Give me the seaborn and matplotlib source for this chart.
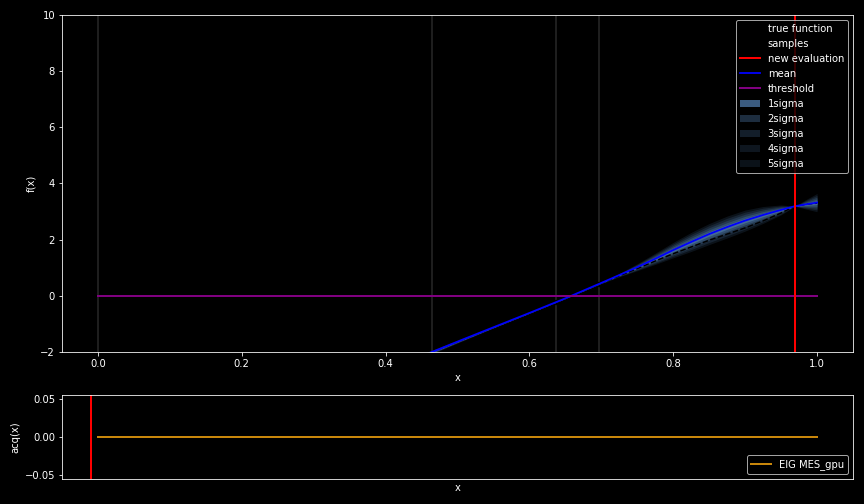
import numpy as np
import pandas as pd
import matplotlib
matplotlib.use('Agg')
import matplotlib.pyplot as plt
import seaborn as sns

plt.style.use('dark_background')

# GP posterior
x_grid = [0.40, 0.45, 0.50, 0.55, 0.60, 0.65, 0.70, 0.725, 0.75, 0.775, 0.80, 0.825, 0.85,
          0.875, 0.90, 0.925, 0.95, 0.969, 0.985, 1.00]
mean_vals = [-2.65, -2.15, -1.63, -1.12, -0.61, -0.09, 0.46, 0.74, 1.02, 1.32, 1.63, 1.92, 2.20,
             2.45, 2.68, 2.88, 3.06, 3.19, 3.26, 3.32]
true_vals = [-2.65, -2.15, -1.63, -1.12, -0.61, -0.09, 0.45, 0.71, 0.97, 1.24, 1.50, 1.74, 1.98,
             2.20, 2.42, 2.67, 2.95, 3.19, 3.26, 3.30]
std_vals = [0.010, 0.015, 0.010, 0.005, 0.003, 0.002, 0.005, 0.012, 0.025, 0.040, 0.055, 0.068, 0.075,
            0.078, 0.075, 0.060, 0.035, 0.0, 0.035, 0.065]

# samples and next point
sample_x = [0.0, 0.4645, 0.637, 0.697]
sample_y = [-6.7, -2.2, -0.23, 0.41]
new_x = 0.969
threshold_x = [0.0, 1.0]
threshold_y = [0.0, 0.0]

# acquisition function
acq_x = [0.0, 1.0]
acq_y = [0.0, 0.0]
acq_new_x = -0.01

df = pd.DataFrame({'x': x_grid, 'mean': mean_vals, 'true': true_vals, 'std': std_vals})
mu = np.array(mean_vals)
sd = np.array(std_vals)

fig = plt.figure(figsize=(12, 7), dpi=72)
ax = fig.add_axes([0.0718, 0.3016, 0.9155, 0.6687])
ax2 = fig.add_axes([0.0718, 0.0496, 0.9155, 0.1667])

for sx in sample_x:
    ax.axvline(sx, color='#1e1e1e', lw=2, zorder=0)

band_color = '#4a73a0'
bands = []
for k in range(1, 6):
    b = ax.fill_between(x_grid, mu - k * sd, mu + k * sd, color=band_color,
                        alpha=0.8 / k, lw=0, label=f'{k}sigma')
    bands.append(b)

smp = ax.scatter(sample_x, sample_y, color='black', s=20, label='samples', zorder=0.5)
true_line = sns.lineplot(data=df, x='x', y='true', ax=ax, color='black',
                         linestyle='--', lw=1.5, label='true function').lines[-1]
mean_line = sns.lineplot(data=df, x='x', y='mean', ax=ax, color='blue', lw=1.8,
                         label='mean').lines[-1]
thr_line = sns.lineplot(x=threshold_x, y=threshold_y, ax=ax, color='purple', lw=2,
                        label='threshold').lines[-1]
new_line = ax.axvline(new_x, color='red', lw=2, label='new evaluation')

ax.set_xlim(-0.05, 1.05)
ax.set_ylim(-2, 10)
ax.set_xticks([0.0, 0.2, 0.4, 0.6, 0.8, 1.0])
ax.set_xlabel('x')
ax.set_ylabel('f(x)')
ax.legend(handles=[true_line, smp, new_line, mean_line, thr_line] + bands,
          labels=['true function', 'samples', 'new evaluation', 'mean', 'threshold',
                  '1sigma', '2sigma', '3sigma', '4sigma', '5sigma'],
          loc='upper right')

sns.lineplot(x=acq_x, y=acq_y, ax=ax2, color='#c8860b', lw=2, label='EIG MES_gpu')
ax2.axvline(acq_new_x, color='red', lw=2)
ax2.set_xlim(-0.05, 1.05)
ax2.set_ylim(-0.055, 0.055)
ax2.set_yticks([-0.05, 0.0, 0.05])
ax2.set_xticks([])
ax2.set_xlabel('x')
ax2.set_ylabel('acq(x)')
ax2.legend(loc='lower right')

fig.savefig('out.png', dpi=72)
